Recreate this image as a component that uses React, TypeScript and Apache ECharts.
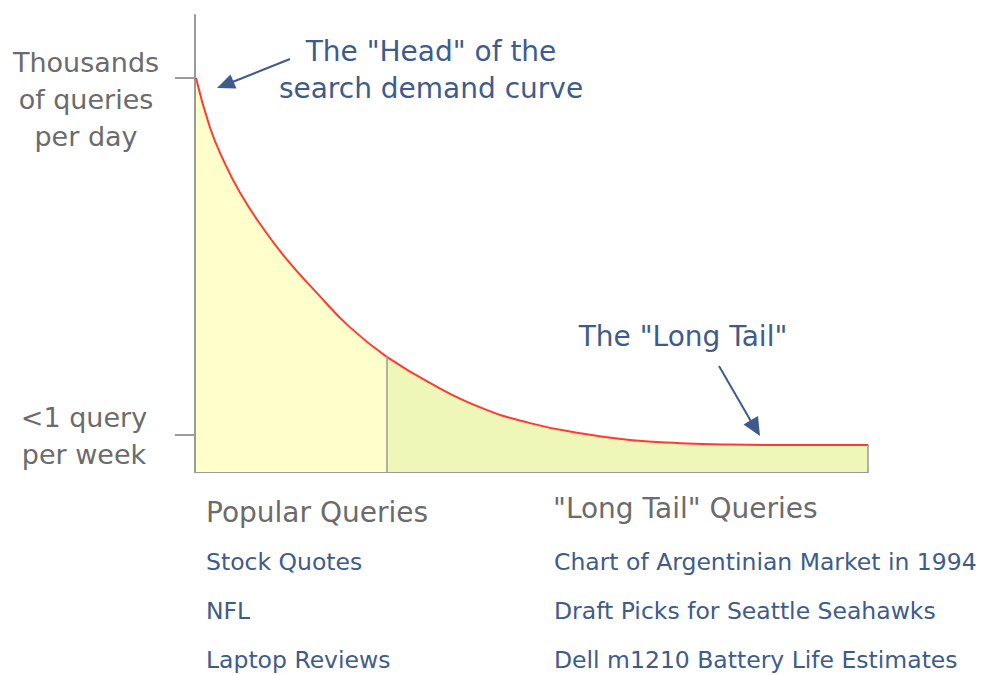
import React, { useEffect, useRef } from "react";
import * as echarts from "echarts";

// Query rank (0 = most popular, 100 = rarest) and relative search demand (0..100 scale)
const headRank = [0.15, 2.2, 4.2, 6.7, 10.0, 13.7, 18.1, 23.0, 28.5];
const headDemand = [86.2, 75.5, 68.3, 61.1, 53.6, 46.4, 39.2, 31.7, 25.2];
const tailRank = [28.5, 34.9, 42.3, 49.8, 57.2, 64.6, 72.1, 79.5, 89.9, 100];
const tailDemand = [25.2, 19.5, 14.2, 10.7, 8.5, 7.0, 6.3, 6.0, 5.9, 5.9];

const yTickValues = [8.1, 86.2];
const yTickLabels = ["<1 query\nper week", "Thousands\nof queries\nper day"];

const popularQueries = ["Stock Quotes", "NFL", "Laptop Reviews"];
const longTailQueries = [
  "Chart of Argentinian Market in 1994",
  "Draft Picks for Seattle Seahawks",
  "Dell m1210 Battery Life Estimates",
];

const FONT = '"DejaVu Sans", sans-serif';
const GRAY_TEXT = "#6b6b6b";
const BLUE = "#3e5b8c";
const AXIS = "#9a9a9a";

export default function App() {
  const ref = useRef<HTMLDivElement>(null);

  useEffect(() => {
    if (!ref.current) return;
    const chart = echarts.init(ref.current, null, { renderer: "svg" });

    const head = headRank.map((x, i) => [x, headDemand[i]]);
    const tail = tailRank.map((x, i) => [x, tailDemand[i]]);
    const divX = headRank[headRank.length - 1];
    const divY = headDemand[headDemand.length - 1];
    const endX = tailRank[tailRank.length - 1];
    const endY = tailDemand[tailDemand.length - 1];

    const txt = (x: number, y: number, text: string, size: number, color: string, align = "left", lh = 37) => ({
      type: "text",
      x,
      y,
      silent: true,
      style: {
        text,
        fill: color,
        fontFamily: "DejaVu Sans",
        fontSize: size,
        textAlign: align,
        textVerticalAlign: "middle",
        lineHeight: lh,
      },
    });

    const graphics: any[] = [
      txt(86, 99, yTickLabels[1], 27, GRAY_TEXT, "center", 37),
      txt(84, 436, yTickLabels[0], 27, GRAY_TEXT, "center", 37),
      txt(431, 70, 'The "Head" of the\nsearch demand curve', 28, BLUE, "center", 37),
      txt(683, 336, 'The "Long Tail"', 28, BLUE, "center", 30),
      txt(286, 387, "~30% of\ndemand", 22, GRAY_TEXT, "center", 31),
      txt(398, 452, "~70% of demand", 22, GRAY_TEXT, "left", 26),
      txt(206, 512, "Popular Queries", 28, GRAY_TEXT, "left", 30),
      txt(553, 508, '"Long Tail" Queries', 28, GRAY_TEXT, "left", 30),
      // arrows
      { type: "line", silent: true, shape: { x1: 290, y1: 59, x2: 230, y2: 83 }, style: { stroke: BLUE, lineWidth: 2 } },
      { type: "polygon", silent: true, shape: { points: [[217, 88], [230.5, 74.5], [236.5, 88.5]] }, style: { fill: BLUE } },
      { type: "line", silent: true, shape: { x1: 719, y1: 366, x2: 752, y2: 423 }, style: { stroke: BLUE, lineWidth: 2 } },
      { type: "polygon", silent: true, shape: { points: [[760, 436], [743.5, 424.5], [758, 416]] }, style: { fill: BLUE } },
    ];
    popularQueries.forEach((q, i) => graphics.push(txt(206, 562 + i * 49, q, 23.5, BLUE, "left", 24)));
    longTailQueries.forEach((q, i) => graphics.push(txt(554, 562 + i * 49, q, 23.5, BLUE, "left", 24)));

    chart.setOption({
      animation: false,
      backgroundColor: "#ffffff",
      textStyle: { fontFamily: FONT },
      grid: { left: 195, right: 119, top: 15, bottom: 203 },
      xAxis: {
        type: "value",
        min: 0,
        max: 100,
        axisLine: { show: true, lineStyle: { color: AXIS, width: 2 } },
        axisTick: { show: false },
        axisLabel: { show: false },
        splitLine: { show: false },
      },
      yAxis: {
        type: "value",
        min: 0,
        max: 100,
        axisLine: { show: true, onZero: false, lineStyle: { color: AXIS, width: 2 } },
        axisTick: { show: true, customValues: yTickValues, length: 20, lineStyle: { color: AXIS, width: 2 } },
        axisLabel: { show: false },
        splitLine: { show: false },
      },
      series: [
        {
          type: "line",
          data: head,
          smooth: 0.5,
          showSymbol: false,
          lineStyle: { color: "#ff3b30", width: 2 },
          areaStyle: { color: "#ffffcc", opacity: 1 },
          z: 3,
        },
        {
          type: "line",
          data: tail,
          smooth: 0.5,
          showSymbol: false,
          lineStyle: { color: "#ff3b30", width: 2 },
          areaStyle: { color: "#eef6b8", opacity: 1 },
          z: 3,
          markLine: {
            silent: true,
            symbol: ["none", "none"],
            label: { show: false },
            lineStyle: { color: AXIS, width: 1.5, type: "solid" },
            data: [
              [{ coord: [divX, 0] }, { coord: [divX, divY] }],
              [{ coord: [endX, 0] }, { coord: [endX, endY] }],
            ],
          },
        },
      ],
      graphic: graphics,
    });

    return () => chart.dispose();
  }, []);

  return <div ref={ref} style={{ position: "fixed", left: 0, top: 0, width: 987, height: 675 }} />;
}
